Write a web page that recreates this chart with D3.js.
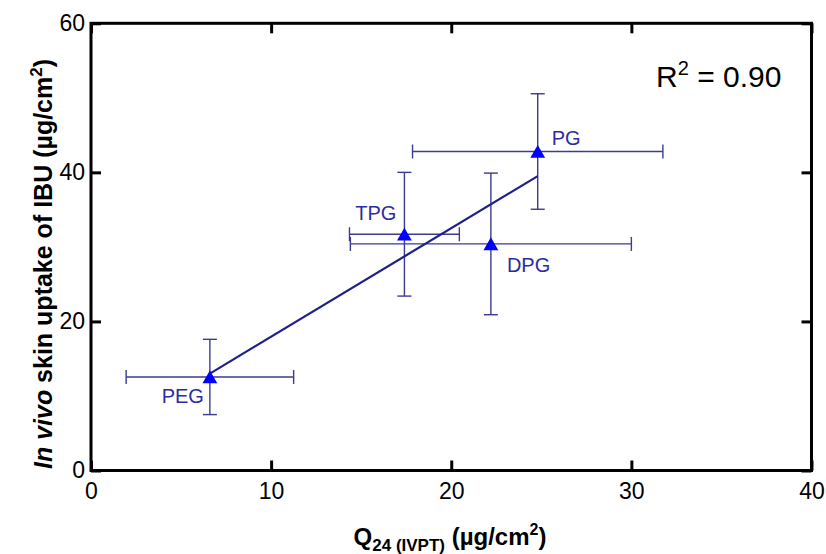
<!DOCTYPE html>
<html>
<head>
<meta charset="utf-8">
<script src="https://cdn.jsdelivr.net/npm/d3@7"></script>
<style>
  html, body { margin: 0; padding: 0; background: #fff; }
  svg { display: block; font-family: "Liberation Sans", Arial, sans-serif; }
</style>
</head>
<body>
<svg id="chart" width="826" height="554"></svg>
<script>
// ---- data ----
const groups  = ["PEG", "TPG", "DPG", "PG"];
const xMean   = [6.6, 17.4, 22.2, 24.8];   // Q24 (IVPT), µg/cm²
const xErr    = [4.65, 3.05, 7.8, 6.95];
const yMean   = [12.55, 31.7, 30.4, 42.8]; // in vivo skin uptake, µg/cm²
const yErr    = [5.05, 8.3, 9.5, 7.75];
const fitX    = [6.6, 24.8];
const fitY    = [13.0, 39.5];
const xTicks  = [0, 10, 20, 30, 40];
const yTicks  = [0, 20, 40, 60];
const r2Text  = "0.90";

// ---- layout ----
const svg = d3.select("#chart");
const padL = 91, padR = 811.5, padT = 23.3, padB = 470.5;
const x = d3.scaleLinear().domain([0, 40]).range([padL, padR]);
const y = d3.scaleLinear().domain([0, 60]).range([padB, padT]);

const axisColor = "#000";
const errColor = "#3b3b8f";
const lineColor = "#1f1f8a";
const markColor = "#0000ff";
const labelColor = "#2c2ca0";

// axes (ticks inward on all four sides)
const gB = svg.append("g").attr("transform", `translate(0,${padB})`)
  .call(d3.axisBottom(x).tickValues(xTicks).tickSizeInner(-10).tickSizeOuter(0).tickPadding(12).tickFormat(d3.format("d")));
const gT = svg.append("g").attr("transform", `translate(0,${padT})`)
  .call(d3.axisTop(x).tickValues(xTicks).tickSizeInner(-10).tickSizeOuter(0).tickFormat(""));
const gL = svg.append("g").attr("transform", `translate(${padL},0)`)
  .call(d3.axisLeft(y).tickValues(yTicks).tickSizeInner(-10).tickSizeOuter(0).tickPadding(6).tickFormat(d3.format("d")));
const gR = svg.append("g").attr("transform", `translate(${padR},0)`)
  .call(d3.axisRight(y).tickValues(yTicks).tickSizeInner(-10).tickSizeOuter(0).tickFormat(""));

[gB, gT, gL, gR].forEach(g => {
  g.select(".domain").remove();
  g.selectAll(".tick line").attr("stroke", axisColor).attr("stroke-width", 3);
  g.selectAll(".tick text").attr("fill", "#000").attr("font-size", 23)
    .attr("font-family", "'Liberation Sans', Arial, sans-serif");
});

svg.append("rect")
  .attr("x", padL).attr("y", padT)
  .attr("width", padR - padL).attr("height", padB - padT)
  .attr("fill", "none").attr("stroke", axisColor).attr("stroke-width", 3);

// error bars
const capHalf = 7;
const eb = svg.append("g").attr("stroke", errColor).attr("stroke-width", 1.4).attr("fill", "none");
groups.forEach((g, i) => {
  const cx = x(xMean[i]), cy = y(yMean[i]);
  const x0 = x(xMean[i] - xErr[i]), x1 = x(xMean[i] + xErr[i]);
  const y0 = y(yMean[i] - yErr[i]), y1 = y(yMean[i] + yErr[i]);
  eb.append("line").attr("x1", x0).attr("x2", x1).attr("y1", cy).attr("y2", cy);
  eb.append("line").attr("x1", x0).attr("x2", x0).attr("y1", cy - capHalf).attr("y2", cy + capHalf);
  eb.append("line").attr("x1", x1).attr("x2", x1).attr("y1", cy - capHalf).attr("y2", cy + capHalf);
  eb.append("line").attr("x1", cx).attr("x2", cx).attr("y1", y0).attr("y2", y1);
  eb.append("line").attr("x1", cx - capHalf).attr("x2", cx + capHalf).attr("y1", y0).attr("y2", y0);
  eb.append("line").attr("x1", cx - capHalf).attr("x2", cx + capHalf).attr("y1", y1).attr("y2", y1);
});

// regression line
svg.append("line")
  .attr("x1", x(fitX[0])).attr("y1", y(fitY[0]))
  .attr("x2", x(fitX[1])).attr("y2", y(fitY[1]))
  .attr("stroke", lineColor).attr("stroke-width", 2.2);

// triangle markers
const tri = d3.symbol().type(d3.symbolTriangle).size(95);
svg.append("g").selectAll("path").data(groups).join("path")
  .attr("d", tri)
  .attr("transform", (d, i) => `translate(${x(xMean[i])},${y(yMean[i]) + 2})`)
  .attr("fill", markColor);

// point labels
const labelPos = {
  PEG: { dx: -6, dy: 26, anchor: "end" },
  TPG: { dx: -8, dy: -14, anchor: "end" },
  DPG: { dx: 16, dy: 28, anchor: "start" },
  PG:  { dx: 14, dy: -6, anchor: "start" }
};
svg.append("g").selectAll("text").data(groups).join("text")
  .attr("x", (d, i) => x(xMean[i]) + labelPos[d].dx)
  .attr("y", (d, i) => y(yMean[i]) + labelPos[d].dy)
  .attr("text-anchor", d => labelPos[d].anchor)
  .attr("font-size", 20)
  .attr("fill", labelColor)
  .text(d => d);

// R² annotation
const r2 = svg.append("text").attr("x", 656).attr("y", 87).attr("font-size", 30).attr("fill", "#000");
r2.append("tspan").text("R");
r2.append("tspan").attr("font-size", 20).attr("dy", -12).text("2");
r2.append("tspan").attr("dy", 12).text(" = " + r2Text);

// x-axis title
const xt = svg.append("text").attr("x", 450).attr("y", 545).attr("text-anchor", "middle")
  .attr("font-size", 24).attr("font-weight", "bold").attr("fill", "#000");
xt.append("tspan").text("Q");
xt.append("tspan").attr("font-size", 17).attr("dy", 6).text("24 (IVPT)");
xt.append("tspan").attr("dy", -6).text(" (µg/cm");
xt.append("tspan").attr("font-size", 16).attr("dy", -10).text("2");
xt.append("tspan").attr("dy", 10).text(")");

// y-axis title
const yt = svg.append("text").attr("transform", "translate(52,264) rotate(-90)")
  .attr("text-anchor", "middle").attr("font-size", 25).attr("font-weight", "bold").attr("fill", "#000");
yt.append("tspan").attr("font-style", "italic").text("In vivo");
yt.append("tspan").text(" skin uptake of IBU (µg/cm");
yt.append("tspan").attr("font-size", 17).attr("dy", -10).text("2");
yt.append("tspan").attr("dy", 10).text(")");
</script>
</body>
</html>
